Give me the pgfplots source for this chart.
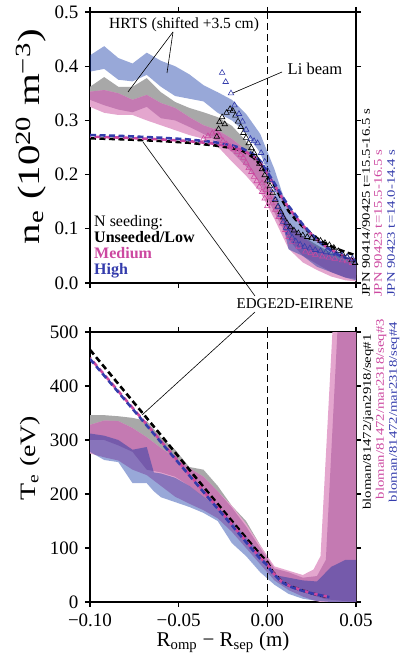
\documentclass[border=0pt]{standalone}
\usepackage{fontspec}
\setmainfont{Liberation Serif}
\usepackage{graphicx}
\usepackage{pgfplots}
\usepackage{pgfplotstable}
\usepgfplotslibrary{fillbetween}
\pgfplotsset{compat=1.18}

\definecolor{bandgrey}{RGB}{168,168,168}
\definecolor{banddpink}{RGB}{196,122,178}
\definecolor{bandlpink}{RGB}{228,166,206}
\definecolor{bandblue}{RGB}{10,48,162}
\definecolor{tpink}{RGB}{204,72,160}
\definecolor{tblue}{RGB}{52,60,172}

% ---------- density: HRTS bands ----------
\pgfplotstableread{
x hi lo
-0.100 0.362 0.340
-0.092 0.380 0.345
-0.084 0.362 0.340
-0.076 0.362 0.330
-0.068 0.378 0.340
-0.060 0.352 0.320
-0.052 0.334 0.310
-0.044 0.323 0.295
-0.036 0.315 0.283
-0.028 0.306 0.275
-0.020 0.290 0.255
-0.012 0.262 0.228
-0.004 0.222 0.188
0.004 0.162 0.128
0.012 0.112 0.082
0.020 0.086 0.058
0.028 0.070 0.043
0.036 0.056 0.030
0.044 0.046 0.020
0.050 0.040 0.015
}\neGrey
\pgfplotstableread{
x hi lo
-0.100 0.353 0.325
-0.092 0.356 0.314
-0.084 0.350 0.310
-0.076 0.338 0.310
-0.068 0.347 0.300
-0.060 0.332 0.291
-0.052 0.323 0.282
-0.044 0.306 0.273
-0.036 0.291 0.266
-0.028 0.282 0.252
-0.020 0.266 0.224
-0.012 0.245 0.198
-0.004 0.215 0.168
0.004 0.160 0.118
0.012 0.110 0.063
0.020 0.085 0.038
0.028 0.065 0.024
0.036 0.050 0.012
0.044 0.040 0.005
0.050 0.035 0.003
}\neLPink
\pgfplotstableread{
x hi lo
-0.100 0.353 0.338
-0.092 0.356 0.328
-0.084 0.350 0.320
-0.076 0.338 0.315
-0.068 0.347 0.325
-0.060 0.332 0.304
-0.052 0.323 0.300
-0.044 0.306 0.288
-0.036 0.291 0.275
-0.028 0.282 0.262
-0.020 0.266 0.242
-0.012 0.245 0.215
-0.004 0.215 0.185
0.004 0.160 0.130
0.012 0.110 0.080
0.020 0.085 0.050
0.028 0.065 0.035
0.036 0.050 0.020
0.044 0.040 0.010
0.050 0.035 0.008
}\neDPink
\pgfplotstableread{
x hi lo
-0.100 0.420 0.390
-0.092 0.437 0.395
-0.084 0.415 0.375
-0.076 0.405 0.372
-0.068 0.425 0.384
-0.060 0.410 0.362
-0.052 0.400 0.345
-0.044 0.385 0.340
-0.036 0.365 0.335
-0.028 0.352 0.314
-0.020 0.338 0.300
-0.012 0.312 0.277
-0.004 0.275 0.240
0.004 0.210 0.175
0.008 0.170 0.120
0.012 0.135 0.062
0.020 0.105 0.050
0.028 0.082 0.030
0.036 0.066 0.020
0.044 0.050 0.010
0.050 0.040 0.005
}\neBlue
% ---------- density: EDGE2D ----------
\pgfplotstableread{
x y
-0.100 0.267
-0.080 0.265
-0.060 0.262
-0.045 0.259
-0.030 0.254
-0.020 0.249
-0.014 0.244
-0.008 0.232
-0.004 0.219
0.000 0.200
0.004 0.180
0.008 0.155
0.012 0.133
0.016 0.117
0.020 0.104
0.025 0.090
0.030 0.078
0.035 0.069
0.040 0.062
0.045 0.056
0.050 0.051
}\neEdgeBlack
\pgfplotstableread{
x y
-0.100 0.270
-0.080 0.268
-0.060 0.265
-0.045 0.262
-0.030 0.257
-0.020 0.251
-0.014 0.245
-0.008 0.235
-0.004 0.222
0.000 0.202
0.004 0.181
0.008 0.159
0.012 0.139
0.016 0.122
0.020 0.106
0.025 0.089
0.030 0.074
0.035 0.063
0.040 0.054
0.045 0.047
0.050 0.042
}\neEdgePink
\pgfplotstableread{
x y
-0.100 0.273
-0.080 0.271
-0.060 0.268
-0.045 0.265
-0.030 0.260
-0.020 0.254
-0.014 0.248
-0.008 0.238
-0.004 0.225
0.000 0.205
0.004 0.184
0.008 0.162
0.012 0.142
0.016 0.125
0.020 0.108
0.025 0.090
0.030 0.074
0.035 0.062
0.040 0.052
0.045 0.045
0.050 0.040
}\neEdgeBlue
% ---------- density: Li beam ----------
\pgfplotstableread{
x y
-0.0285 0.270
-0.0275 0.284
-0.0270 0.297
-0.0255 0.306
-0.0240 0.293
-0.0230 0.314
-0.0210 0.321
-0.0195 0.318
-0.0180 0.309
-0.0165 0.298
-0.0150 0.288
-0.0135 0.277
-0.0120 0.268
-0.0105 0.258
-0.0090 0.249
-0.0075 0.240
-0.0060 0.230
-0.0045 0.220
-0.0030 0.210
-0.0015 0.199
0.0000 0.189
0.0015 0.179
0.0030 0.166
0.0045 0.153
0.0060 0.141
0.0075 0.131
0.0090 0.121
0.0110 0.111
0.0130 0.103
0.0150 0.097
0.0175 0.092
0.0200 0.088
0.0225 0.085
0.0250 0.083
0.0275 0.081
0.0300 0.078
0.0325 0.074
0.0350 0.070
0.0375 0.065
0.0400 0.059
0.0425 0.053
0.0450 0.048
0.0475 0.042
0.0495 0.037
}\liBlack
\pgfplotstableread{
x y
-0.0360 0.266
-0.0335 0.271
-0.0310 0.276
-0.0290 0.279
-0.0270 0.271
-0.0250 0.262
-0.0230 0.256
-0.0210 0.251
-0.0190 0.247
-0.0170 0.242
-0.0150 0.236
-0.0135 0.231
-0.0120 0.222
-0.0105 0.212
-0.0090 0.205
-0.0075 0.196
-0.0060 0.188
-0.0045 0.178
-0.0030 0.168
-0.0015 0.156
0.0000 0.142
-0.0030 0.184
-0.0010 0.172
0.0010 0.159
0.0026 0.147
0.0045 0.135
0.0064 0.122
0.0083 0.110
0.0102 0.098
0.0120 0.085
0.0140 0.076
0.0177 0.067
0.0215 0.058
0.0245 0.055
0.0271 0.052
0.0310 0.049
0.0346 0.047
0.0380 0.045
0.0422 0.042
0.0450 0.040
0.0478 0.037
}\liPink
\pgfplotstableread{
x y
-0.0255 0.388
-0.0235 0.371
-0.0205 0.350
-0.0185 0.328
-0.0160 0.312
-0.0140 0.298
-0.0120 0.283
-0.0095 0.266
-0.0075 0.262
-0.0055 0.258
-0.0035 0.240
-0.0015 0.224
0.0000 0.208
0.0015 0.190
0.0030 0.172
0.0045 0.155
0.0060 0.140
0.0075 0.126
0.0090 0.113
0.0105 0.102
0.0120 0.093
0.0140 0.084
0.0160 0.077
0.0185 0.071
0.0210 0.067
0.0240 0.064
0.0270 0.061
0.0300 0.059
0.0330 0.057
0.0360 0.055
0.0390 0.053
0.0420 0.051
0.0450 0.048
0.0480 0.045
}\liBlue
% ---------- temperature: HRTS bands ----------
\pgfplotstableread{
x hi lo
-0.100 346 300
-0.092 346 300
-0.084 344 295
-0.076 341 285
-0.068 335 270
-0.060 305 250
-0.052 282 235
-0.044 250 215
-0.036 245 200
-0.028 215 180
-0.020 178 150
-0.012 150 120
-0.004 105 85
0.004 62 45
0.012 48 30
0.020 40 20
}\teGrey
\pgfplotstableread{
x hi lo
-0.100 328 275
-0.092 336 268
-0.084 335 262
-0.076 322 245
-0.068 305 235
-0.060 285 215
-0.052 268 195
-0.044 248 182
-0.036 232 170
-0.028 205 155
-0.020 178 130
-0.012 145 100
-0.004 105 70
0.004 66 40
0.012 58 22
0.020 50 10
0.026 60 3
0.030 85 0
0.0367 500 0
0.050 500 0
}\teLPink
\pgfplotstableread{
x hi lo
-0.100 328 300
-0.092 336 300
-0.084 335 290
-0.076 322 278
-0.068 305 245
-0.060 285 240
-0.052 268 232
-0.044 248 215
-0.036 232 195
-0.028 205 175
-0.020 175 150
-0.012 140 120
-0.004 100 85
0.004 62 50
0.012 55 32
0.020 45 20
0.028 48 10
0.033 78 5
0.0395 500 3
0.050 500 0
}\teDPink
\pgfplotstableread{
x hi lo
-0.100 312 278
-0.092 308 263
-0.084 300 259
-0.076 282 220
-0.068 287 220
-0.064 240 205
-0.060 238 194
-0.052 230 185
-0.044 215 176
-0.036 195 165
-0.028 175 150
-0.020 150 109
-0.012 120 85
-0.004 90 55
0.004 50 32
0.012 45 15
0.020 40 6
0.028 38 2
0.036 65 0
0.044 78 0
0.050 78 0
}\teBlue
% ---------- temperature: EDGE2D ----------
\pgfplotstableread{
x y
-0.100 467
-0.080 388
-0.060 309
-0.040 229
-0.020 150
-0.010 111
-0.004 88
0.000 74
0.003 56
0.008 38
0.0125 30
0.0175 24
0.025 16
0.033 10
}\teEdgeBlack
\pgfplotstableread{
x y
-0.100 452
-0.080 375
-0.060 298
-0.040 221
-0.020 144
-0.010 105
-0.004 82
0.000 70
0.003 55
0.008 38
0.0125 30
0.0175 24
0.025 16
0.035 9
}\teEdgePink
\pgfplotstableread{
x y
-0.100 450
-0.080 373
-0.060 296
-0.040 219
-0.020 142
-0.010 103
-0.004 80
0.000 68
0.003 54
0.008 37
0.0125 29
0.0175 23
0.025 16
0.035 9
}\teEdgeBlue

\pgfplotsset{
  myax/.style={
    scale only axis, width=266pt,
    xmin=-0.1, xmax=0.05,
    xtick={-0.1,-0.05,0,0.05},
    tick align=outside, xtick pos=both, ytick pos=both,
    xticklabel pos=lower, yticklabel pos=left,
    major tick length=5pt,
    axis line style={line width=1.3pt},
    every tick/.style={black, line width=1.2pt},
    tick label style={font=\fontsize{19}{22}\selectfont},
    xticklabel style={inner sep=1pt, yshift=-5.3pt},
    yticklabel style={inner sep=1pt, xshift=-5.3pt},
  },
  bandedge/.style={draw=none, forget plot},
  edge/.style={line width=2.6pt, dash pattern=on 6pt off 3.5pt},
  sepline/.style={black, line width=1.4pt, dash pattern=on 7pt off 4pt},
  li/.style={only marks, mark=triangle, mark size=3.2pt, mark options={line width=0.6pt}},
}
\tikzset{
  legtext/.style={anchor=west, inner sep=0pt, text height=11pt, text depth=2pt, font=\fontsize{16}{18}\selectfont},
}

\newcommand{\hband}[3]{%
  \addplot[bandedge, name path=#1h] table[x=x,y=hi]{#2};
  \addplot[bandedge, name path=#1l] table[x=x,y=lo]{#2};
  \addplot[#3, draw=none, forget plot] fill between[of=#1h and #1l];
}

\begin{document}
\begin{tikzpicture}[x=1pt,y=1pt]

% ================= density =================
\begin{axis}[myax,
  at={(90pt,376pt)}, anchor=south west, height=271pt,
  ymin=0, ymax=0.5,
  ytick={0,0.1,0.2,0.3,0.4,0.5},
  yticklabels={0.0,0.1,0.2,0.3,0.4,0.5},
  xticklabels={},
  ylabel={\scalebox{1.32}[1]{\fontsize{31}{34}\selectfont n\textsubscript{e} (10\textsuperscript{20} m\textsuperscript{−3})}},
  ylabel style={at={(axis description cs:-0.222,0.54)}, anchor=center},
]
\hband{ga}{\neGrey}{fill=bandgrey}
\hband{pa}{\neLPink}{fill=bandlpink}
\hband{pb}{\neDPink}{fill=banddpink}
\hband{ba}{\neBlue}{fill=bandblue, fill opacity=0.42}
\addplot[sepline] coordinates {(0,0) (0,0.5)};
\addplot[li, tpink] table[x=x,y=y]{\liPink};
\addplot[li, black] table[x=x,y=y]{\liBlack};
\addplot[li, tblue] table[x=x,y=y]{\liBlue};
\addplot[edge, black] table[x=x,y=y]{\neEdgeBlack};
\addplot[edge, tpink, dash phase=5pt] table[x=x,y=y]{\neEdgePink};
\addplot[edge, tblue] table[x=x,y=y]{\neEdgeBlue};
\end{axis}

% ================= temperature =================
\begin{axis}[myax,
  at={(90pt,57pt)}, anchor=south west, height=270pt,
  ymin=0, ymax=500,
  ytick={0,100,200,300,400,500},
  yticklabels={0,100,200,300,400,500},
  xticklabels={−0.10,−0.05,0.00,0.05},
  ylabel={\scalebox{1.27}[1]{\fontsize{22}{26}\selectfont T\textsubscript{e} (eV)}},
  ylabel style={at={(axis description cs:-0.226,0.533)}, anchor=center},
  xlabel={\fontsize{21}{24}\selectfont R\textsubscript{omp} − R\textsubscript{sep} (m)},
  xlabel style={at={(axis description cs:0.5,-0.148)}, anchor=center},
]
\hband{tg}{\teGrey}{fill=bandgrey}
\hband{tp}{\teLPink}{fill=bandlpink}
\hband{tq}{\teDPink}{fill=banddpink}
\hband{tb}{\teBlue}{fill=bandblue, fill opacity=0.42}
\addplot[sepline] coordinates {(0,0) (0,500)};
\addplot[edge, black] table[x=x,y=y]{\teEdgeBlack};
\addplot[edge, tpink, dash phase=5pt] table[x=x,y=y]{\teEdgePink};
\addplot[edge, tblue] table[x=x,y=y]{\teEdgeBlue};
\end{axis}

% ================= annotations =================
\draw[line width=0.6pt] (173,627) -- (128,567);
\draw[line width=0.6pt] (173,627) -- (167,586);
\node[font=\fontsize{15.5}{18}\selectfont] at (184,634) {HRTS (shifted +3.5 cm)};
\draw[line width=0.6pt] (282,587) -- (233,566);
\node[font=\fontsize{16.5}{19}\selectfont] at (315,590) {Li beam};
\draw[line width=0.6pt] (143,517) -- (255,363);
\draw[line width=0.6pt] (142,244) -- (255,347);
\node[font=\fontsize{15}{18}\selectfont] at (295,355) {EDGE2D-EIRENE};

\node[legtext] at (94,437) {N seeding:};
\node[legtext, font=\fontsize{16}{18}\selectfont\bfseries] at (94,420.5) {Unseeded/Low};
\node[legtext, font=\fontsize{16}{18}\selectfont\bfseries, text=tpink] at (94,404.5) {Medium};
\node[legtext, font=\fontsize{16}{18}\selectfont\bfseries, text=tblue] at (94,389) {High};

\node[rotate=90, anchor=west, inner sep=0pt, font=\fontsize{11.6}{13}\selectfont] at (366,362) {\scalebox{1.27}[1]{JPN 90414/90425 t=15.5-16.5 s}};
\node[rotate=90, anchor=west, inner sep=0pt, font=\fontsize{11.6}{13}\selectfont, text=tpink] at (378,362) {\scalebox{1.27}[1]{JPN 90423 t=15.5-16.5 s}};
\node[rotate=90, anchor=west, inner sep=0pt, font=\fontsize{11.6}{13}\selectfont, text=tblue] at (391,362) {\scalebox{1.27}[1]{JPN 90423 t=14.0-14.4 s}};

\node[rotate=90, inner sep=0pt, font=\fontsize{11.6}{13}\selectfont] at (368,237) {\scalebox{1.27}[1]{bloman/81472/jan2918/seq\#1}};
\node[rotate=90, inner sep=0pt, font=\fontsize{11.6}{13}\selectfont, text=tpink] at (381,250) {\scalebox{1.27}[1]{bloman/81472/mar2318/seq\#3}};
\node[rotate=90, inner sep=0pt, font=\fontsize{11.6}{13}\selectfont, text=tblue] at (394,247) {\scalebox{1.27}[1]{bloman/81472/mar2318/seq\#4}};

\pgfresetboundingbox
\useasboundingbox (0,0) rectangle (406,659);
\end{tikzpicture}
\end{document}
